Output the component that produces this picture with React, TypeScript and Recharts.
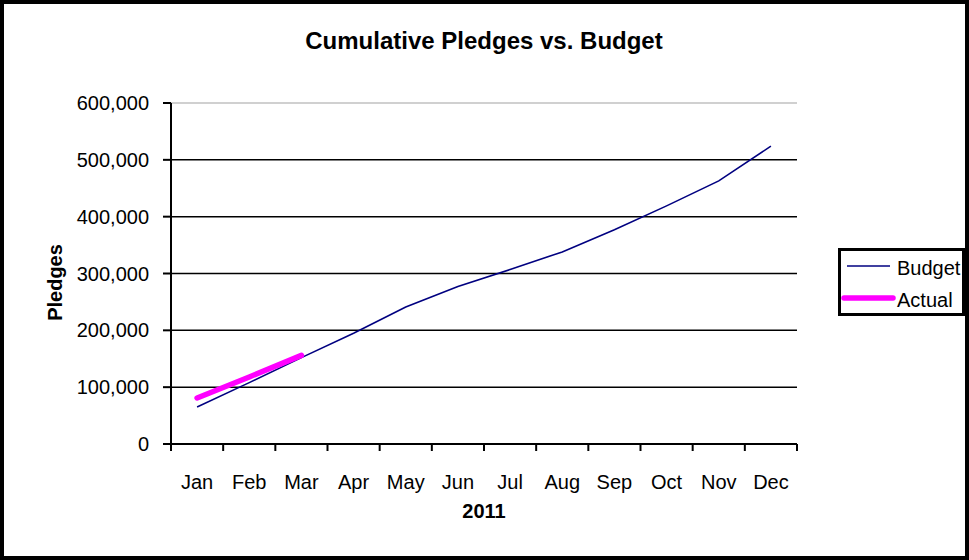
import React from 'react';
import {
  LineChart,
  Line,
  XAxis,
  YAxis,
  CartesianGrid,
  ReferenceLine,
  Legend,
} from 'recharts';

const FONT = '"Liberation Sans", Arial, sans-serif';

const months = ['Jan', 'Feb', 'Mar', 'Apr', 'May', 'Jun', 'Jul', 'Aug', 'Sep', 'Oct', 'Nov', 'Dec'];
const budget = [65000, 108000, 152000, 195000, 241000, 277000, 307000, 338000, 377000, 419000, 463000, 524000];
const actual: (number | null)[] = [81000, 118000, 156000, null, null, null, null, null, null, null, null, null];
const yTicks = [0, 100000, 200000, 300000, 400000, 500000, 600000];
const gridValues = [100000, 200000, 300000, 400000, 500000];
const legendOrder = ['Budget', 'Actual'];

const data = months.map((month, i) => ({ month, Budget: budget[i], Actual: actual[i] }));

const fmt = (v: number) => v.toLocaleString('en-US');

// category ticks sit between the months, like the original spreadsheet chart
function MonthTick(props: any) {
  const { x, y, payload } = props;
  const half = payload && payload.offset ? payload.offset : 26;
  const isLast = payload && payload.value === months[months.length - 1];
  return (
    <g>
      <line x1={x - half} x2={x - half} y1={y} y2={y + 7} stroke="#000" strokeWidth={2} />
      {isLast && <line x1={x + half} x2={x + half} y1={y} y2={y + 7} stroke="#000" strokeWidth={2} />}
      <text x={x} y={y + 45} textAnchor="middle" fill="#000" fontSize={20} fontFamily={FONT}>
        {payload.value}
      </text>
    </g>
  );
}

function PledgesLabel(props: any) {
  const vb = props.viewBox || { x: 31, y: 103, width: 140, height: 341 };
  const cx = vb.x + 31;
  const cy = vb.y + vb.height / 2 + 9;
  return (
    <text
      x={cx}
      y={cy}
      transform={`rotate(-90 ${cx} ${cy})`}
      textAnchor="middle"
      fontSize={20}
      fontWeight="bold"
      fontFamily={FONT}
      fill="#000"
    >
      Pledges
    </text>
  );
}

function LegendBox(props: any) {
  const items = [...(props.payload || [])].sort(
    (a: any, b: any) => legendOrder.indexOf(a.value) - legendOrder.indexOf(b.value)
  );
  return (
    <div
      style={{
        width: 127,
        height: 68,
        border: '3px solid #000',
        boxSizing: 'border-box',
        background: '#fff',
        position: 'relative',
      }}
    >
      <svg width={121} height={62} style={{ position: 'absolute', left: 0, top: 0 }}>
        {items.map((item: any, i: number) => {
          const thick = item.value === 'Actual';
          const ly = i === 0 ? 15 : 47;
          return (
            <g key={item.value}>
              <line
                x1={thick ? 3 : 6}
                x2={thick ? 52 : 49}
                y1={ly}
                y2={ly}
                stroke={item.color}
                strokeWidth={thick ? 5.5 : 1.6}
                strokeLinecap={thick ? 'round' : 'butt'}
              />
              <text x={56} y={ly + 9} fontSize={20} fontFamily={FONT} fill="#000">
                {item.value}
              </text>
            </g>
          );
        })}
      </svg>
    </div>
  );
}

export default function App() {
  return (
    <div style={{ position: 'absolute', left: 0, top: 0, width: 969, height: 560, background: '#fff' }}>
      <LineChart
        width={969}
        height={560}
        data={data}
        margin={{ top: 103, right: 172, left: 31, bottom: 41 }}
      >
        <CartesianGrid horizontalValues={gridValues} vertical={false} stroke="#000" strokeWidth={1.5} />
        <ReferenceLine y={600000} stroke="#c0c0c0" strokeWidth={1.5} />
        <XAxis
          dataKey="month"
          scale="band"
          height={75}
          tickSize={0}
          tickMargin={0}
          tickLine={false}
          axisLine={{ stroke: '#000', strokeWidth: 2 }}
          tick={<MonthTick />}
          interval={0}
          label={{
            value: '2011',
            position: 'insideBottom',
            offset: 1,
            fontSize: 20,
            fontWeight: 'bold',
            fontFamily: FONT,
            fill: '#000',
          }}
        />
        <YAxis
          width={140}
          domain={[0, 600000]}
          ticks={yTicks}
          interval={0}
          tickFormatter={fmt}
          tickSize={8}
          tickMargin={14}
          tickLine={{ stroke: '#000', strokeWidth: 2 }}
          axisLine={{ stroke: '#000', strokeWidth: 2 }}
          tick={{ fill: '#000', fontSize: 20, fontFamily: FONT }}
          label={<PledgesLabel />}
        />
        <Legend
          layout="vertical"
          align="center"
          verticalAlign="middle"
          content={<LegendBox />}
          wrapperStyle={{ left: 838, top: 248, width: 127, height: 68 }}
        />
        <Line
          type="linear"
          dataKey="Budget"
          stroke="#000080"
          strokeWidth={1.6}
          dot={false}
          isAnimationActive={false}
        />
        <Line
          type="linear"
          dataKey="Actual"
          stroke="#ff00ff"
          strokeWidth={5.5}
          strokeLinecap="round"
          dot={false}
          connectNulls={false}
          isAnimationActive={false}
        />
      </LineChart>
      <div
        style={{
          position: 'absolute',
          left: 0,
          top: 29,
          width: 968,
          textAlign: 'center',
          fontFamily: FONT,
          fontSize: 24,
          fontWeight: 'bold',
          lineHeight: '24px',
          color: '#000',
        }}
      >
        Cumulative Pledges vs. Budget
      </div>
      <div
        style={{
          position: 'absolute',
          left: 0,
          top: 0,
          width: 969,
          height: 560,
          boxSizing: 'border-box',
          border: '4px solid #000',
          pointerEvents: 'none',
        }}
      />
    </div>
  );
}
